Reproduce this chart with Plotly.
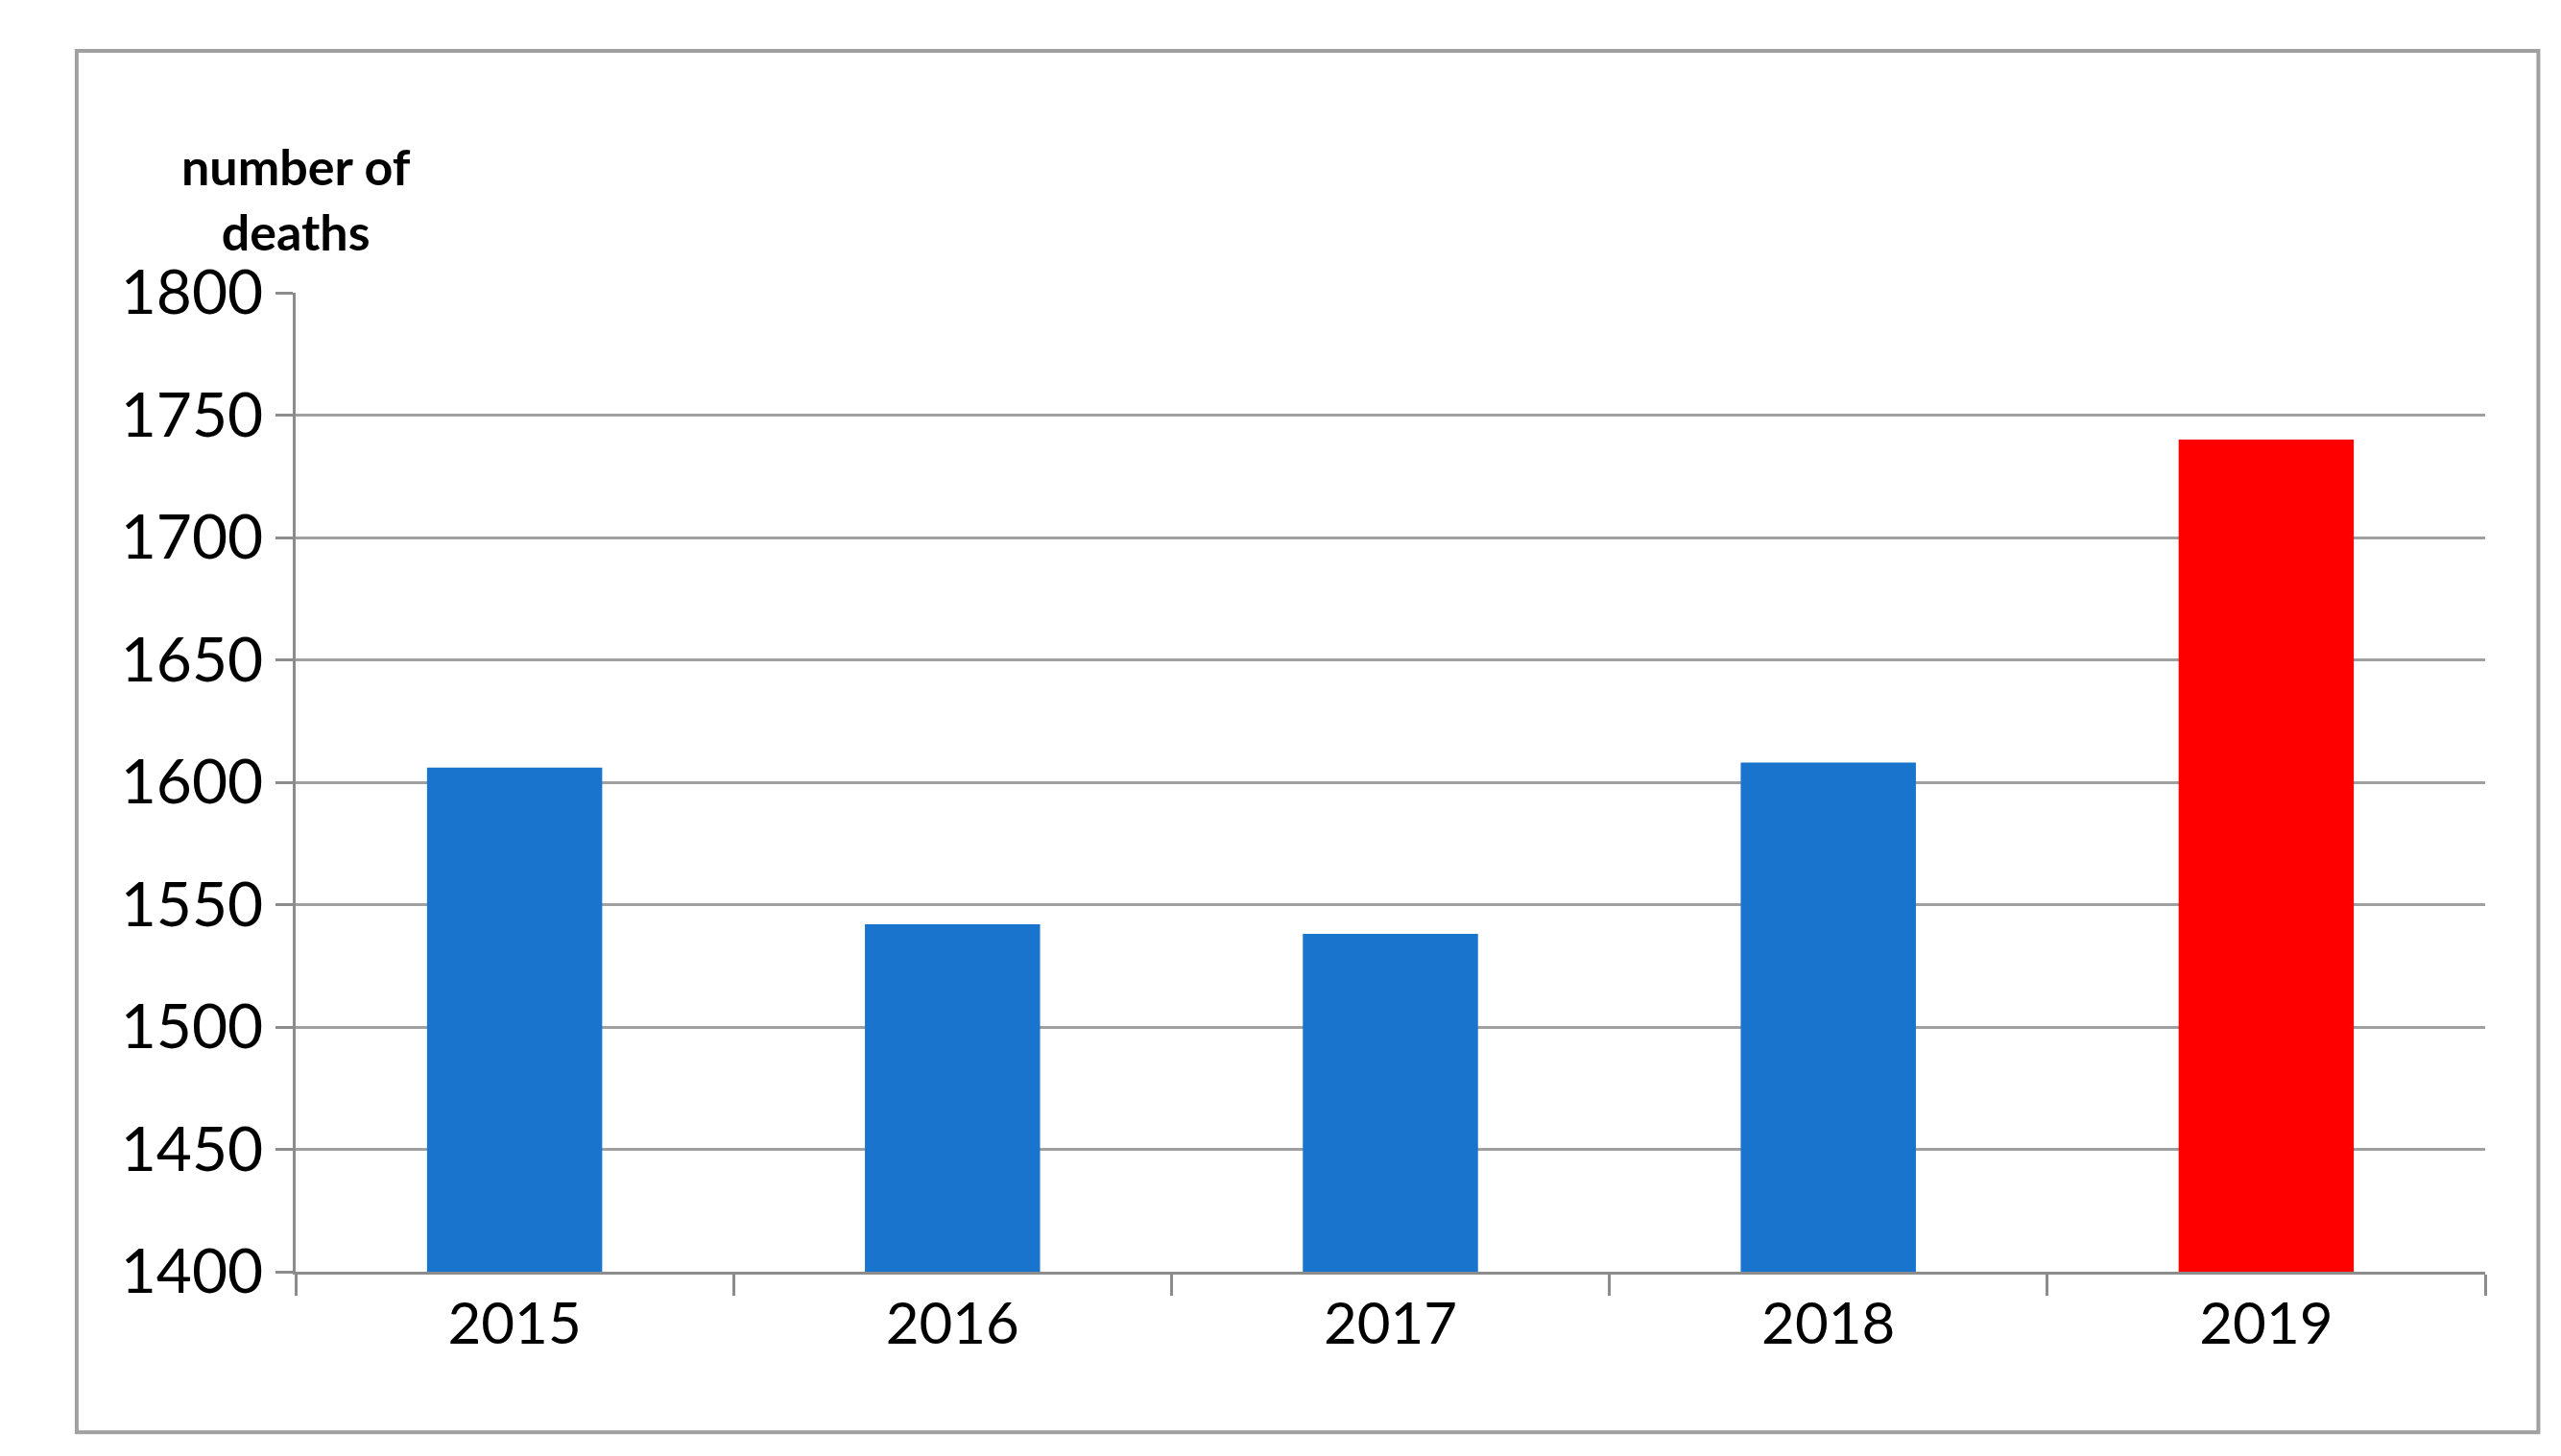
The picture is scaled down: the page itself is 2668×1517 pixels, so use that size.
import plotly.graph_objects as go

years = ["2015", "2016", "2017", "2018", "2019"]
deaths = [1606, 1542, 1538, 1608, 1740]
colors = ["#1874CD", "#1874CD", "#1874CD", "#1874CD", "#FF0000"]

fig = go.Figure(go.Bar(x=years, y=deaths, marker_color=colors, marker_line_width=0, width=0.4))

fig.update_layout(
    width=2668, height=1517,
    margin=dict(l=300, r=87, t=297, b=200),
    plot_bgcolor="white", paper_bgcolor="white",
    font=dict(family="Lato, Open Sans, sans-serif", color="black"),
    showlegend=False,
    shapes=[dict(type="rect", xref="paper", yref="paper",
                 x0=-0.1, x1=1.0243, y0=-0.164, y1=1.247,
                 line=dict(color="#A0A0A0", width=4))],
    annotations=[dict(text="<b>number of<br>deaths</b>", xref="paper", yref="paper",
                      x=-0.0, y=1.03, xanchor="center", yanchor="bottom",
                      showarrow=False, font=dict(size=52), align="center")],
)
fig.update_xaxes(tickson="boundaries", ticks="outside", ticklen=22, tickwidth=3,
                 tickcolor="#8C8C8C", showline=True, linecolor="#8C8C8C", linewidth=3,
                 tickfont=dict(size=60))
fig.update_yaxes(range=[1400, 1800], dtick=50, showgrid=True, gridcolor="#A0A0A0", gridwidth=3,
                 showline=True, linecolor="#8C8C8C", linewidth=3, ticks="outside",
                 ticklen=18, tickwidth=3, tickcolor="#8C8C8C", tickfont=dict(size=64))

fig.write_html("out.html")
